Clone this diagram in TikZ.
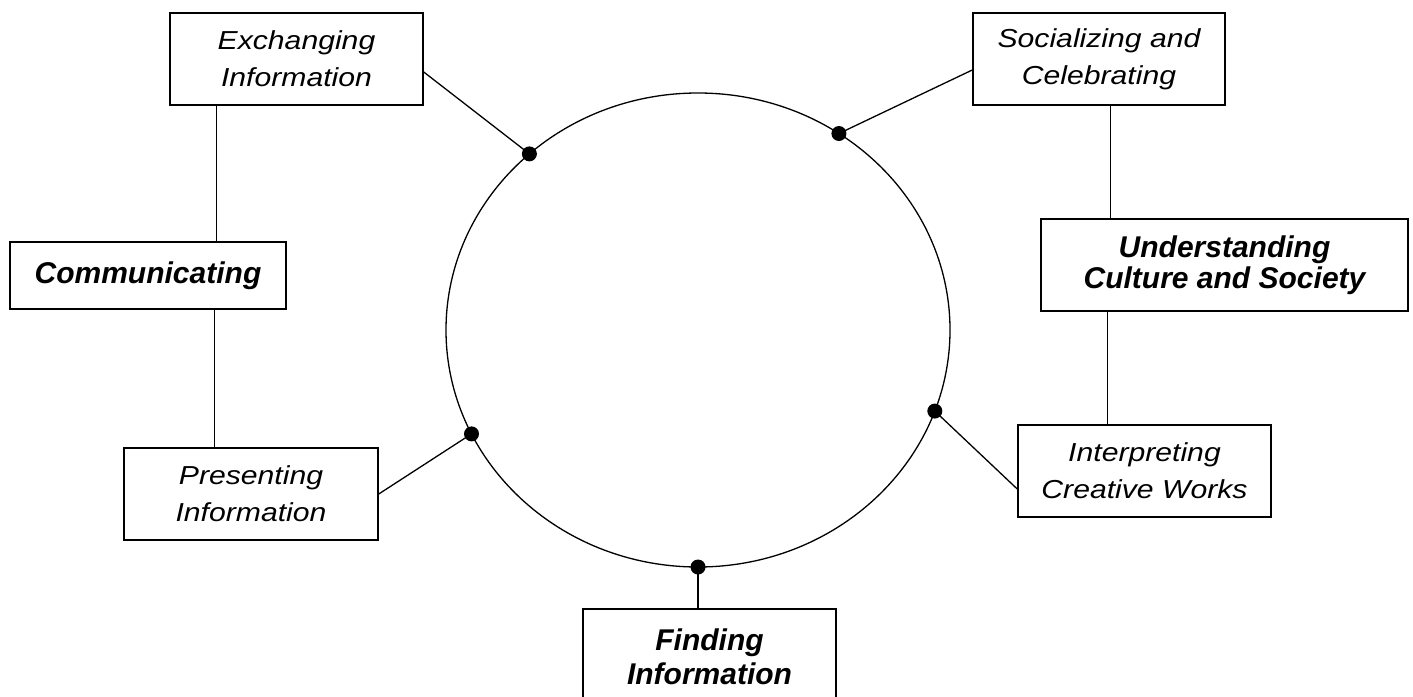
\documentclass[tikz,border=0pt]{standalone}
\usepackage{fontspec}
\setmainfont{Liberation Sans}
\newfontfamily\regf{Liberation Sans}[FakeStretch=1.16]
\newfontfamily\boldf{Liberation Sans}
\begin{document}
\begin{tikzpicture}[x=1pt,y=-1pt,line width=1.5pt,
  leaf/.style={draw, rectangle, inner sep=0pt, align=center,
    font=\regf\itshape\fontsize{26}{37}\selectfont},
  cat/.style={draw, rectangle, inner sep=0pt, align=center,
    font=\boldf\bfseries\itshape\fontsize{30}{30}\selectfont},
  link/.style={line width=1.3pt},
  dot/.style={fill=black}]
\useasboundingbox (0,0) rectangle (1413,696);
\clip (0,0) rectangle (1413,696);

% circle
\draw[line width=1.3pt] (698,330) ellipse [x radius=252pt, y radius=237pt];

% boxes
\node[leaf, minimum width=253pt, minimum height=92pt] (exch) at (296.5,59) {Exchanging\\Information};
\node[leaf, minimum width=252pt, minimum height=92pt] (soc) at (1099,59) {Socializing and\\Celebrating};
\node[cat, minimum width=276pt, minimum height=67pt] (comm) at (148,275.5) {Communicating};
\node[cat, minimum width=367pt, minimum height=92pt, font=\boldf\bfseries\itshape\fontsize{30}{31}\selectfont] (und) at (1224.5,265) {Understanding\\Culture and Society};
\node[leaf, minimum width=254pt, minimum height=92pt] (pres) at (251,494) {Presenting\\Information};
\node[leaf, minimum width=253pt, minimum height=92pt] (interp) at (1144.5,471) {Interpreting\\Creative Works};
\node[cat, minimum width=253pt, minimum height=96pt, font=\boldf\bfseries\itshape\fontsize{30}{34}\selectfont] (find) at (709.5,657) {Finding\\Information};

% points on the circle
\coordinate (dE) at ({698+252*cos(132)},{330-237*sin(132)});
\coordinate (dS) at ({698+252*cos(56)},{330-237*sin(56)});
\coordinate (dP) at ({698+252*cos(206)},{330-237*sin(206)});
\coordinate (dI) at ({698+252*cos(340)},{330-237*sin(340)});
\coordinate (dF) at ({698+252*cos(270)},{330-237*sin(270)});

% tree lines
\draw ([xshift=47pt]exch.south west) -- ([xshift=47pt]exch.south west |- comm.north);
\draw ([xshift=91pt]pres.north west) -- ([xshift=91pt]pres.north west |- comm.south);
\draw ([xshift=138pt]soc.south west) -- ([xshift=138pt]soc.south west |- und.north);
\draw ([xshift=90pt]interp.north west) -- ([xshift=90pt]interp.north west |- und.south);

% connectors to circle
\draw[link] ([yshift=-13pt]exch.east) -- (dE);
\draw[link] ([yshift=-11pt]soc.west) -- (dS);
\draw[link] (pres.east) -- (dP);
\draw[link] ([yshift=-18pt]interp.west) -- (dI);
\draw[link] (dF) -- (dF |- find.north);

% dots
\foreach \d in {dE,dS,dP,dI,dF} \fill[dot] (\d) circle[radius=7.5pt];
\end{tikzpicture}
\end{document}
